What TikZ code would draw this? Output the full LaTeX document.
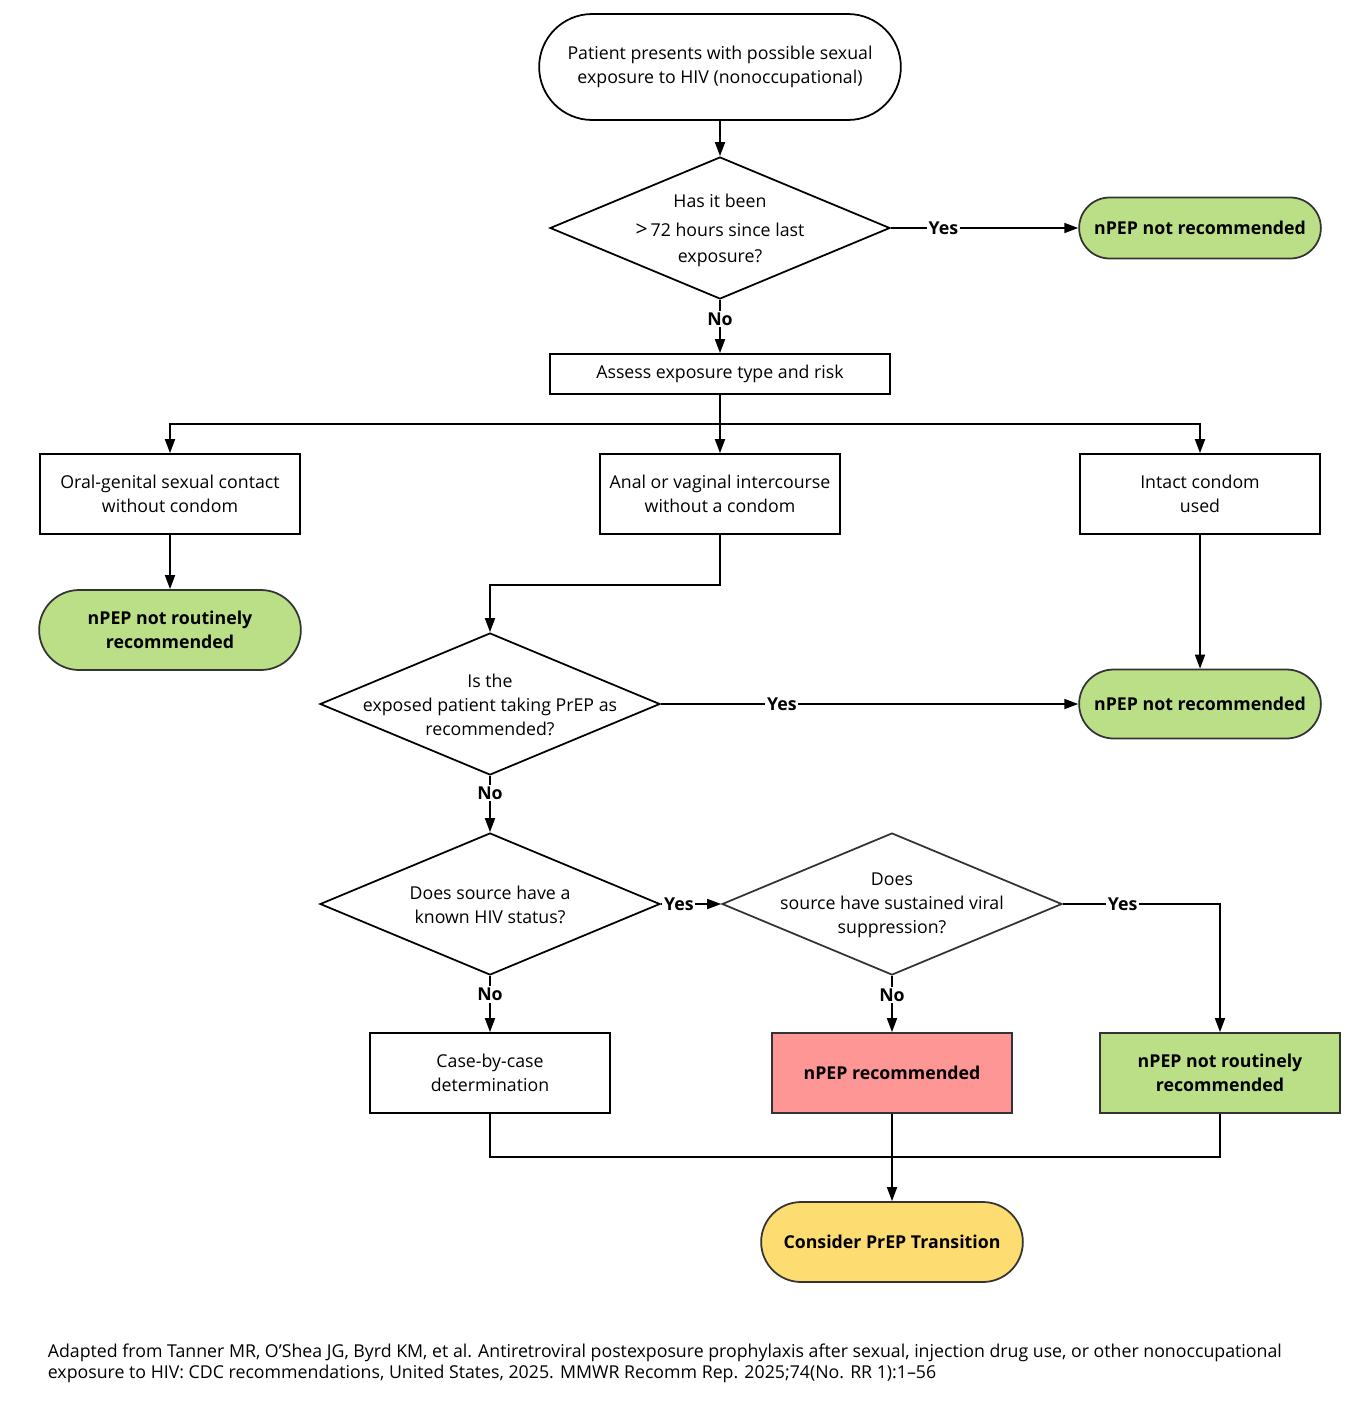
\documentclass[tikz,border=0pt]{standalone}
\usepackage{fontspec}
\setmainfont{Open Sans}
\usepackage{tikz}
\usetikzlibrary{positioning,shapes.geometric,shapes.misc,arrows.meta}

\definecolor{okgreen}{HTML}{BBDF87}
\definecolor{recred}{HTML}{FE9696}
\definecolor{prepyellow}{HTML}{FDDC72}
\definecolor{edgegray}{HTML}{333333}

\begin{document}
\begin{tikzpicture}[x=0.02cm, y=-0.02cm, line width=1pt,
    every node/.style={font=\fontsize{10.1pt}{13.6pt}\selectfont, align=center},
    box/.style={rectangle, draw, minimum width=4.8cm, minimum height=1.6cm, inner sep=2pt},
    term/.style={rounded rectangle, draw=edgegray, minimum width=5.07cm, minimum height=1.6cm, font=\fontsize{10.1pt}{13.6pt}\selectfont\bfseries},
    dia/.style={diamond, draw, minimum width=6.8cm, minimum height=2.84cm, inner sep=0pt},
    tag/.style={fill=white, inner sep=1pt, font=\fontsize{10.1pt}{13.6pt}\selectfont\bfseries},
    arr/.style={-{Triangle[length=0.28cm,width=0.2cm]}}]

    \useasboundingbox (0,0) rectangle (1360,1403);

    % top of the chart
    \node[rounded rectangle, draw, minimum width=7.47cm, minimum height=2.12cm] (start) at (720,67) {Patient presents with possible sexual\\exposure to HIV (nonoccupational)};
    \node[dia] (hours) at (720,228) {};
    \node (hourstxt) at (720,230) {Has it been\\[3pt]{\large\textgreater}\,72 hours since last\\[1pt]exposure?};
    \node[term, fill=okgreen, minimum height=1.22cm] (notrec1) at (1200,228) {nPEP not recommended};
    \node[box, minimum width=6.8cm, minimum height=0.8cm] (assess) at (720,374) {Assess exposure type and risk};

    % exposure types
    \coordinate (split) at (720,424);
    \node[box, minimum width=5.2cm] (oral) at (170,494) {Oral-genital sexual contact\\without condom};
    \node[box] (anal) at (720,494) {Anal or vaginal intercourse\\without a condom};
    \node[box] (condom) at (1200,494) {Intact condom\\used};
    \node[term, fill=okgreen, minimum width=5.47cm] (routine1) at (170,630) {nPEP not routinely\\recommended};

    % PrEP and source questions
    \node[dia] (prep) at (490,704) {};
    \node (preptxt) at (490,705) {Is the\\exposed patient taking PrEP as\\recommended?};
    \node[term, fill=okgreen, minimum height=1.38cm] (notrec2) at (1200,704) {nPEP not recommended};
    \node[dia] (known) at (490,904) {};
    \node (knowntxt) at (490,905) {Does source have a\\known HIV status?};
    \node[dia, draw=edgegray] (viral) at (892,904) {};
    \node (viraltxt) at (892,905) {Does\\source have sustained viral\\suppression?};

    % outcomes
    \node[box] (case) at (490,1073) {Case-by-case\\determination};
    \node[box, draw=edgegray, fill=recred, font=\fontsize{10.1pt}{13.6pt}\selectfont\bfseries] (rec) at (892,1073) {nPEP recommended};
    \node[box, draw=edgegray, fill=okgreen, font=\fontsize{10.1pt}{13.6pt}\selectfont\bfseries] (routine2) at (1220,1073) {nPEP not routinely\\recommended};
    \coordinate (join) at (892,1157);
    \node[term, fill=prepyellow, minimum width=5.47cm] (consider) at (892,1242) {Consider PrEP Transition};

    % connectors
    \draw[arr] (start) -- (hours);
    \draw[arr] (hours.east) -- node[tag, pos=0.28] {Yes} (notrec1);
    \draw[arr] (hours.south) -- node[tag, pos=0.36] {No} (assess);
    \draw (assess) -- (split);
    \draw[arr] (split) -- (anal);
    \draw[arr] (split) -| (oral.north);
    \draw[arr] (split) -| (condom.north);
    \draw[arr] (oral) -- (routine1);
    \draw[arr] (anal.south) -- ++(0,50) -| (prep.north);
    \draw[arr] (condom) -- (notrec2);
    \draw[arr] (prep.east) -- node[tag, pos=0.29] {Yes} (notrec2);
    \draw[arr] (prep.south) -- node[tag, pos=0.3] {No} (known.north);
    \draw[arr] (known.east) -- node[tag, pos=0.3] {Yes} (viral.west);
    \draw[arr] (known.south) -- node[tag, pos=0.33] {No} (case);
    \draw[arr] (viral.south) -- node[tag, pos=0.34] {No} (rec);
    \draw[arr] (viral.east) -| node[tag, pos=0.19] {Yes} (routine2.north);
    \draw (case.south) |- (join);
    \draw (routine2.south) |- (join);
    \draw[arr] (rec) -- (consider);

    % source note
    \node[anchor=base west, align=left, inner sep=0pt, font=\fontsize{10.1pt}{11.9pt}\selectfont] (source) at (47,1378) {Adapted from Tanner MR, O'Shea JG, Byrd KM, et al. Antiretroviral postexposure prophylaxis after sexual, injection drug use, or other nonoccupational\\exposure to HIV: CDC recommendations, United States, 2025. MMWR Recomm Rep. 2025;74(No. RR 1):1--56};
\end{tikzpicture}
\end{document}
